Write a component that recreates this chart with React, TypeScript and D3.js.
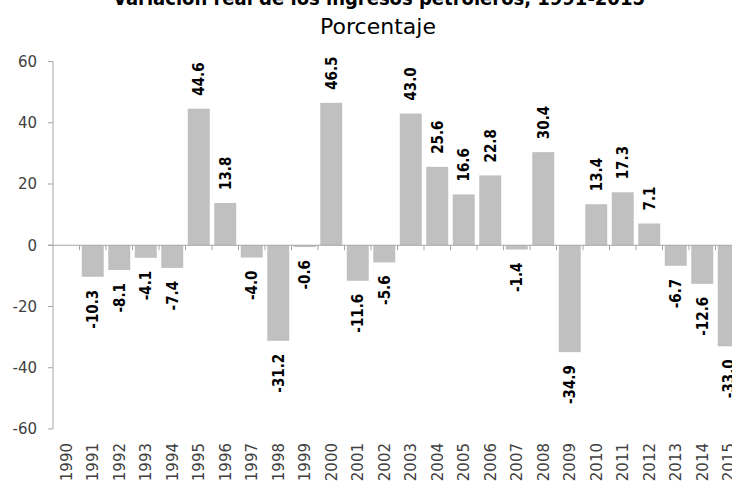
import * as d3 from "d3";

// Variación real de los ingresos petroleros, porcentaje
const years = [
  "1990", "1991", "1992", "1993", "1994", "1995", "1996", "1997", "1998",
  "1999", "2000", "2001", "2002", "2003", "2004", "2005", "2006", "2007",
  "2008", "2009", "2010", "2011", "2012", "2013", "2014", "2015",
];
const values: (number | null)[] = [
  null, -10.3, -8.1, -4.1, -7.4, 44.6, 13.8, -4.0, -31.2,
  -0.6, 46.5, -11.6, -5.6, 43.0, 25.6, 16.6, 22.8, -1.4,
  30.4, -34.9, 13.4, 17.3, 7.1, -6.7, -12.6, -33.0,
];
const yTicks = [-60, -40, -20, 0, 20, 40, 60];

const title = "Variación real de los ingresos petroleros, 1991-2015";
const subtitle = "Porcentaje";

const W = 732;
const H = 485;

export default function App() {
  const x = d3
    .scaleBand<string>()
    .domain(years)
    .range([53, 742])
    .paddingInner(0.17)
    .paddingOuter(0.085);

  const y = d3.scaleLinear().domain([-60, 60]).range([429, 61.5]);

  const step = x.step();
  const bw = x.bandwidth();
  const y0 = y(0);
  const labelFont = "'DejaVu Sans Condensed', 'DejaVu Sans', sans-serif";
  const axisColor = "#a6a6a6";

  return (
    <svg
      width={W}
      height={H}
      style={{ position: "fixed", left: 0, top: 0, background: "#fff" }}
    >
      {/* Títulos */}
      <text
        x={379}
        y={5}
        textAnchor="middle"
        fontFamily="'Liberation Sans Narrow', 'DejaVu Sans Condensed', sans-serif"
        fontWeight="bold"
        fontSize={20}
        fill="#000"
      >
        {title}
      </text>
      <text
        x={378}
        y={34}
        textAnchor="middle"
        fontFamily="'DejaVu Sans', sans-serif"
        fontSize={22}
        fill="#000"
      >
        {subtitle}
      </text>

      {/* Barras */}
      {years.map((yr, i) => {
        const v = values[i];
        if (v == null) return null;
        return (
          <rect
            key={yr}
            x={x(yr)}
            y={Math.min(y(v), y0)}
            width={bw}
            height={Math.abs(y(v) - y0)}
            fill="#c0c0c0"
          />
        );
      })}

      {/* Eje Y */}
      <line x1={53} x2={53} y1={y(60)} y2={y(-60)} stroke={axisColor} />
      {yTicks.map((t) => (
        <g key={t}>
          <line x1={48} x2={53} y1={y(t)} y2={y(t)} stroke={axisColor} />
          <text
            x={37}
            y={y(t)}
            dy="0.35em"
            textAnchor="end"
            fontFamily="'DejaVu Sans', sans-serif"
            fontSize={15}
            fill="#404040"
          >
            {t}
          </text>
        </g>
      ))}

      {/* Eje X en cero */}
      <line x1={48} x2={W} y1={y0} y2={y0} stroke={axisColor} />
      {years.slice(1).map((yr) => {
        const bx = (x(yr) ?? 0) - (step - bw) / 2;
        return (
          <line
            key={yr}
            x1={bx}
            x2={bx}
            y1={y0}
            y2={y0 + 5}
            stroke={axisColor}
          />
        );
      })}

      {/* Etiquetas de años */}
      {years.map((yr) => {
        const cx = (x(yr) ?? 0) + bw / 2;
        return (
          <text
            key={yr}
            transform={`translate(${cx},443) rotate(-90)`}
            dy="0.35em"
            textAnchor="end"
            fontFamily="'DejaVu Sans', sans-serif"
            fontSize={15}
            fill="#404040"
          >
            {yr}
          </text>
        );
      })}

      {/* Etiquetas de datos */}
      {years.map((yr, i) => {
        const v = values[i];
        if (v == null) return null;
        const cx = (x(yr) ?? 0) + bw / 2;
        const pos = v >= 0;
        const ly = pos ? y(v) - 13 : y(v) + 13;
        return (
          <text
            key={yr}
            transform={`translate(${cx},${ly}) rotate(-90)`}
            dy="0.35em"
            textAnchor={pos ? "start" : "end"}
            fontFamily={labelFont}
            fontWeight="bold"
            fontSize={15}
            fill="#000"
          >
            {v.toFixed(1)}
          </text>
        );
      })}
    </svg>
  );
}
